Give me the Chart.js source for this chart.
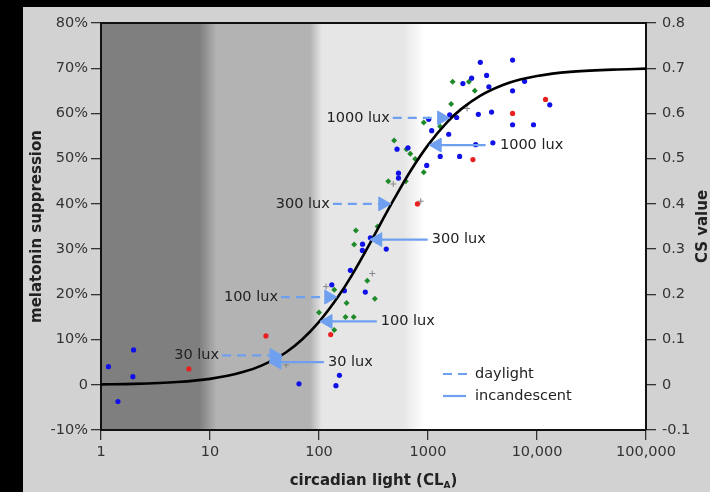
<!DOCTYPE html>
<html>
<head>
<meta charset="utf-8">
<script src="https://cdn.jsdelivr.net/npm/chart.js@4.4.1/dist/chart.umd.min.js"></script>
<style>
html,body{margin:0;padding:0;background:#000;}
#wrap{position:absolute;left:23px;top:7px;width:687px;height:485px;background:#d2d2d2;}
</style>
</head>
<body>
<div id="wrap"><canvas id="chart" width="687" height="485"></canvas></div>
<script>
// x axis decades
var xTicks = [1, 10, 100, 1000, 10000, 100000];
// background shade steps (CL values where shade changes)
var bandEdges = [8, 11.5, 83, 106, 590, 930];
var bandColors = ['#7f7f7f', '#b3b3b3', '#e6e6e6', '#ffffff'];

// fitted curve (CL, % suppression)
var curveCL  = [1, 2, 5, 10, 20, 30, 50, 70, 100, 150, 200, 300, 400, 500, 700, 1000, 1500, 2000, 3000, 5000, 7000, 10000, 20000, 50000, 100000];
var curvePct = [0.1, 0.2, 0.6, 1.3, 2.8, 4.3, 7.2, 10.0, 13.9, 19.5, 24.2, 31.7, 37.3, 41.5, 47.5, 53.0, 58.1, 60.9, 63.9, 66.4, 67.5, 68.3, 69.2, 69.7, 69.9];

// measured points [CL, %]
var bluePts = [
  [1.17, 4.0], [1.99, 7.7], [1.96, 1.8], [1.43, -3.7], [65.5, 0.2], [154, 2.1], [143, -0.2],
  [131, 22.1], [171, 20.8], [194, 25.3], [266, 20.5], [250, 29.7], [414, 30.0], [251, 31.1], [296, 32.5],
  [536, 46.8], [536, 45.7], [520, 52.1], [655, 52.4], [973, 48.5], [1294, 50.5], [1950, 50.5],
  [1081, 56.2], [1548, 55.4], [2735, 53.1], [3936, 53.5], [1015, 58.7], [1581, 59.7], [1832, 59.1],
  [2896, 59.8], [3830, 60.3], [5970, 57.5], [9290, 57.5], [13100, 61.9], [3620, 65.9], [5970, 65.0],
  [7690, 67.1], [2090, 66.6], [2512, 67.8], [3450, 68.4], [3020, 71.3], [5970, 71.8]
];
var greenPts = [
  [100, 16.0], [138, 12.1], [138, 21.0], [175, 15.0], [208, 15.0], [179, 18.1], [210, 31.0], [218, 34.1],
  [277, 23.0], [325, 19.0], [345, 35.0], [432, 45.0], [625, 45.0], [489, 54.0], [634, 52.1], [687, 51.1],
  [763, 49.9], [914, 47.0], [914, 58.0], [1294, 57.1], [1630, 62.1], [1683, 67.0], [2373, 67.0], [2690, 65.0]
];
var redPts = [[6.4, 3.5], [32.6, 10.8], [128, 11.1], [800, 40.0], [2583, 49.8], [5970, 60.0], [11970, 63.1]];
var grayPts = [[50, 4.4], [116, 21.7], [308, 24.6], [480, 44.4], [857, 40.6], [2286, 61.1]];

// lux arrows: text, from CL, to CL (head), level %, dashed = daylight
var arrows = [
  {text: '30 lux',   from: 12.9, to: 38.7, y: 6.5,  dashed: true},
  {text: '30 lux',   from: 111,  to: 41.2, y: 5.0,  dashed: false},
  {text: '100 lux',  from: 44.8, to: 123,  y: 19.4, dashed: true},
  {text: '100 lux',  from: 339,  to: 121,  y: 14.0, dashed: false},
  {text: '300 lux',  from: 134,  to: 385,  y: 40.0, dashed: true},
  {text: '300 lux',  from: 994,  to: 346,  y: 32.1, dashed: false},
  {text: '1000 lux', from: 475,  to: 1334, y: 59.0, dashed: true},
  {text: '1000 lux', from: 3375, to: 1214, y: 53.0, dashed: false, textAt: 4200}
];

var arrowColor = '#6fa0f0';
var FONT = "'DejaVu Sans', Verdana, sans-serif";

function pts(list) {
  return list.map(function(p) { return {x: p[0], y: p[1]}; });
}

var datasets = [];
arrows.forEach(function(a) {
  datasets.push({
    data: [{x: a.from, y: a.y}, {x: a.to, y: a.y}],
    showLine: true,
    borderColor: arrowColor,
    borderWidth: 2.2,
    borderDash: a.dashed ? [9, 6] : [],
    pointStyle: 'triangle',
    pointRadius: [0, 8],
    pointRotation: a.to > a.from ? 90 : -90,
    pointBackgroundColor: arrowColor,
    pointBorderColor: arrowColor,
    pointBorderWidth: 1,
    order: 0
  });
});
datasets.push({
  data: curveCL.map(function(c, i) { return {x: c, y: curvePct[i]}; }),
  showLine: true,
  borderColor: '#000',
  borderWidth: 2.6,
  pointRadius: 0,
  cubicInterpolationMode: 'monotone',
  order: 1
});
datasets.push({data: pts(bluePts), pointStyle: 'circle', pointRadius: 2.6, backgroundColor: '#1010e8', borderWidth: 0, order: 2});
datasets.push({data: pts(greenPts), pointStyle: 'rectRot', pointRadius: 3, backgroundColor: '#1f8a2a', borderWidth: 0, order: 3});
datasets.push({data: pts(redPts), pointStyle: 'circle', pointRadius: 2.6, backgroundColor: '#e82020', borderWidth: 0, order: 4});
datasets.push({data: pts(grayPts), pointStyle: 'cross', pointRadius: 3, borderColor: '#888', borderWidth: 1, order: 5});

var decor = {
  id: 'decor',
  beforeDraw: function(chart) {
    var a = chart.chartArea, xs = chart.scales.x, ctx = chart.ctx;
    var w = a.right - a.left;
    var g = ctx.createLinearGradient(a.left, 0, a.right, 0);
    g.addColorStop(0, bandColors[0]);
    for (var i = 0; i < bandEdges.length; i++) {
      var s = (xs.getPixelForValue(bandEdges[i]) - a.left) / w;
      g.addColorStop(Math.min(1, Math.max(0, s)), bandColors[Math.floor((i + 1) / 2)]);
    }
    g.addColorStop(1, bandColors[3]);
    ctx.save();
    ctx.fillStyle = g;
    ctx.fillRect(a.left, a.top, w, a.bottom - a.top);
    ctx.restore();
  },
  afterDraw: function(chart) {
    var a = chart.chartArea, xs = chart.scales.x, ys = chart.scales.y, ctx = chart.ctx;
    ctx.save();
    // top frame
    ctx.strokeStyle = '#111';
    ctx.lineWidth = 2;
    ctx.beginPath();
    ctx.moveTo(a.left - 1, a.top);
    ctx.lineTo(a.right + 1, a.top);
    ctx.stroke();

    // arrow labels
    ctx.fillStyle = '#222';
    ctx.font = '14.5px ' + FONT;
    ctx.textBaseline = 'middle';
    arrows.forEach(function(ar) {
      var y = ys.getPixelForValue(ar.y);
      if (ar.dashed) {
        ctx.textAlign = 'right';
        ctx.fillText(ar.text, xs.getPixelForValue(ar.from) - 3, y);
      } else {
        ctx.textAlign = 'left';
        ctx.fillText(ar.text, xs.getPixelForValue(ar.textAt || ar.from) + 4, y);
      }
    });

    // legend
    var lx = a.left + 342, ly = a.top + 351;
    ctx.strokeStyle = arrowColor;
    ctx.lineWidth = 2.2;
    ctx.setLineDash([9, 6]);
    ctx.beginPath(); ctx.moveTo(lx, ly); ctx.lineTo(lx + 25, ly); ctx.stroke();
    ctx.setLineDash([]);
    ctx.beginPath(); ctx.moveTo(lx, ly + 22); ctx.lineTo(lx + 23, ly + 22); ctx.stroke();
    ctx.textAlign = 'left';
    ctx.fillText('daylight', lx + 32, ly);
    ctx.fillText('incandescent', lx + 32, ly + 22);

    // right axis title, reads bottom to top
    var cy = (a.top + a.bottom) / 2;
    ctx.font = 'bold 15px ' + FONT;
    ctx.textAlign = 'center';
    ctx.translate(chart.width - 7, cy);
    ctx.rotate(-Math.PI / 2);
    ctx.fillText('CS value', 0, 0);
    ctx.setTransform(1, 0, 0, 1, 0, 0);

    // x axis title with subscript A
    var t1 = 'circadian light (CL', t2 = 'A', t3 = ')';
    ctx.font = 'bold 15px ' + FONT;
    var w1 = ctx.measureText(t1).width, w3 = ctx.measureText(t3).width;
    ctx.font = 'bold 9px ' + FONT;
    var w2 = ctx.measureText(t2).width;
    var x0 = (a.left + a.right) / 2 - (w1 + w2 + w3) / 2, by = a.bottom + 55;
    ctx.textAlign = 'left';
    ctx.textBaseline = 'alphabetic';
    ctx.font = 'bold 15px ' + FONT;
    ctx.fillText(t1, x0, by);
    ctx.font = 'bold 9px ' + FONT;
    ctx.fillText(t2, x0 + w1, by + 3);
    ctx.font = 'bold 15px ' + FONT;
    ctx.fillText(t3, x0 + w1 + w2, by);
    ctx.restore();
  }
};

var tickFont = {family: FONT, size: 14.5};
new Chart(document.getElementById('chart'), {
  type: 'scatter',
  data: {datasets: datasets},
  options: {
    responsive: false,
    animation: false,
    layout: {padding: {top: 16, left: 0, right: 0, bottom: 0}},
    plugins: {legend: {display: false}, tooltip: {enabled: false}},
    scales: {
      x: {
        type: 'logarithmic',
        min: 1,
        max: 100000,
        afterBuildTicks: function(s) { s.ticks = xTicks.map(function(v) { return {value: v}; }); },
        afterFit: function(s) { s.height = 62; },
        ticks: {
          autoSkip: false, maxRotation: 0, padding: 4, color: '#333', font: tickFont,
          callback: function(v) { return v >= 10000 ? v.toLocaleString('en-US') : String(v); }
        },
        grid: {drawOnChartArea: false, tickLength: 10, color: '#333', lineWidth: 1.3},
        border: {display: true, color: '#111', width: 2}
      },
      y: {
        position: 'left',
        min: -10,
        max: 80,
        afterFit: function(s) { s.width = 78; },
        ticks: {
          stepSize: 10, padding: 3, color: '#333', font: tickFont,
          callback: function(v) { return v === 0 ? '0' : v + '%'; }
        },
        title: {display: true, text: 'melatonin suppression', color: '#222', font: {family: FONT, size: 15, weight: 'bold'}, padding: {top: 5, bottom: 0}},
        grid: {drawOnChartArea: false, tickLength: 10, color: '#333', lineWidth: 1.3},
        border: {display: true, color: '#111', width: 2}
      },
      y1: {
        position: 'right',
        min: -0.1,
        max: 0.8,
        afterFit: function(s) { s.width = 64; },
        ticks: {
          stepSize: 0.1, padding: 6, color: '#333', font: tickFont,
          callback: function(v) { return Math.abs(v) < 1e-9 ? '0' : v.toFixed(1); }
        },
        grid: {drawOnChartArea: false, tickLength: 10, color: '#333', lineWidth: 1.3},
        border: {display: true, color: '#111', width: 2}
      }
    }
  },
  plugins: [decor]
});
</script>
</body>
</html>
